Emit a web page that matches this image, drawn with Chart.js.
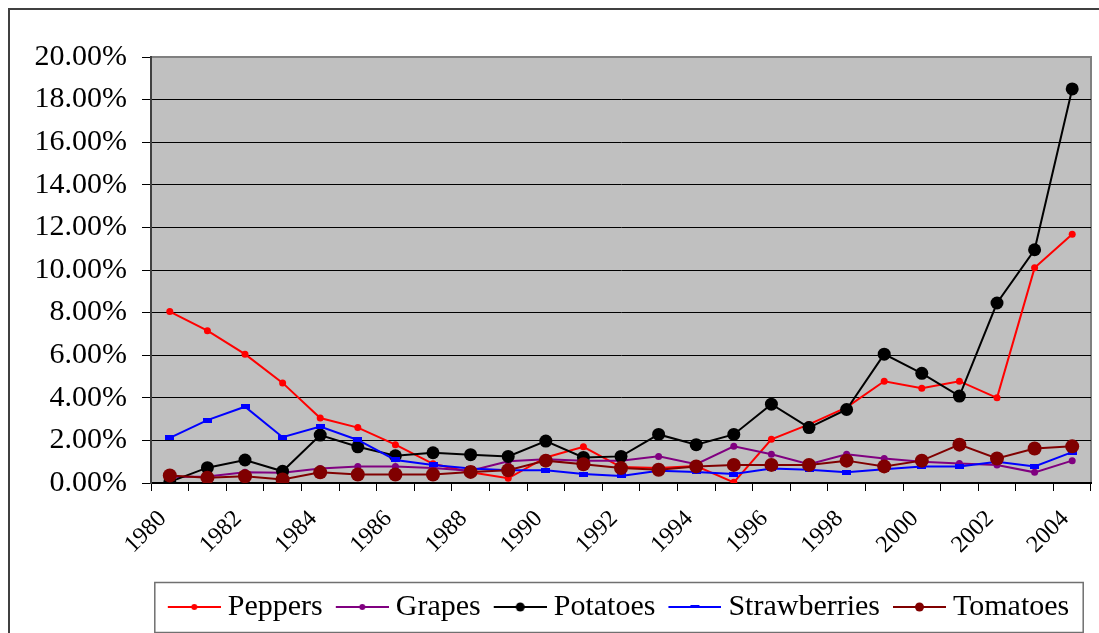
<!DOCTYPE html>
<html>
<head>
<meta charset="utf-8">
<script src="https://cdn.jsdelivr.net/npm/chart.js@4.4.1/dist/chart.umd.min.js"></script>
<style>
  html, body { margin: 0; padding: 0; background: #fff; }
  canvas { display: block; }
</style>
</head>
<body>
<canvas id="chart" width="1099" height="633"></canvas>
<script>
  'use strict';

  var years = ['1980', '1981', '1982', '1983', '1984', '1985', '1986', '1987', '1988', '1989',
    '1990', '1991', '1992', '1993', '1994', '1995', '1996', '1997', '1998', '1999',
    '2000', '2001', '2002', '2003', '2004'];

  var peppers = [8.05, 7.15, 6.05, 4.7, 3.05, 2.6, 1.8, 0.9, 0.5, 0.22, 1.2, 1.7, 0.75,
    0.7, 0.8, 0.03, 2.05, 2.75, 3.55, 4.78, 4.45, 4.78, 4.0, 10.1, 11.68];
  var grapes = [0.28, 0.3, 0.5, 0.48, 0.68, 0.78, 0.78, 0.7, 0.58, 1.02, 1.12, 1.05, 1.05,
    1.25, 0.88, 1.72, 1.35, 0.88, 1.35, 1.15, 1.0, 0.92, 0.85, 0.5, 1.05];
  var potatoes = [0.05, 0.72, 1.08, 0.55, 2.25, 1.7, 1.28, 1.42, 1.33, 1.25, 1.97, 1.2, 1.25,
    2.28, 1.8, 2.28, 3.7, 2.6, 3.45, 6.05, 5.15, 4.08, 8.45, 10.95, 18.5];
  var strawberries = [2.12, 2.95, 3.58, 2.15, 2.65, 2.02, 1.08, 0.85, 0.68, 0.6, 0.6, 0.42, 0.33,
    0.58, 0.52, 0.42, 0.68, 0.62, 0.5, 0.65, 0.78, 0.78, 1.0, 0.78, 1.45];
  var tomatoes = [0.35, 0.25, 0.32, 0.17, 0.5, 0.4, 0.4, 0.4, 0.52, 0.6, 1.05, 0.88, 0.7,
    0.62, 0.78, 0.85, 0.85, 0.85, 1.05, 0.78, 1.05, 1.8, 1.15, 1.62, 1.72];

  var yMax = 20;
  var yStep = 2;

  var serif = "'Liberation Serif', 'Times New Roman', serif";

  // small blue dash used as the strawberry marker
  function dashMarker(color, w, h) {
    var c = document.createElement('canvas');
    c.width = w;
    c.height = h;
    var ctx = c.getContext('2d');
    ctx.fillStyle = color;
    ctx.fillRect(0, 0, w, h);
    return c;
  }

  // legend icon: line segment with the series marker in the middle
  function legendIcon(color, marker, size) {
    var c = document.createElement('canvas');
    c.width = 56;
    c.height = 14;
    var ctx = c.getContext('2d');
    ctx.strokeStyle = color;
    ctx.lineWidth = 2;
    ctx.beginPath();
    ctx.moveTo(3, 7);
    ctx.lineTo(56, 7);
    ctx.stroke();
    ctx.fillStyle = color;
    if (marker === 'dash') {
      ctx.fillRect(25, 5, 9, 3);
    } else {
      ctx.beginPath();
      ctx.arc(29.5, 7, size, 0, Math.PI * 2);
      ctx.fill();
    }
    return c;
  }

  var icons = [
    legendIcon('#ff0000', 'circle', 3),
    legendIcon('#800080', 'circle', 3),
    legendIcon('#000000', 'circle', 4.5),
    legendIcon('#0000ff', 'dash', 0),
    legendIcon('#800000', 'circle', 4.5)
  ];

  var plotFrame = {
    id: 'plotFrame',
    beforeDraw: function(chart) {
      var ctx = chart.ctx;
      var a = chart.chartArea;
      ctx.save();
      ctx.fillStyle = '#c0c0c0';
      ctx.fillRect(a.left, a.top, a.right - a.left, a.bottom - a.top);
      ctx.strokeStyle = '#808080';
      ctx.lineWidth = 2;
      ctx.strokeRect(a.left, a.top, a.right - a.left, a.bottom - a.top);
      // outer chart border, cut off on the right and bottom
      ctx.strokeStyle = '#404040';
      ctx.lineWidth = 2;
      ctx.strokeRect(9, 9, 1200, 800);
      ctx.restore();
    },
    afterDraw: function(chart) {
      var lg = chart.legend;
      var boxes = lg.legendHitBoxes;
      if (!boxes || !boxes.length) return;
      var first = boxes[0];
      var last = boxes[boxes.length - 1];
      var ctx = chart.ctx;
      ctx.save();
      ctx.strokeStyle = '#707070';
      ctx.lineWidth = 1.5;
      ctx.strokeRect(first.left - 18, 582.5, last.left + last.width + 32 - first.left, 50);
      ctx.restore();
    }
  };

  var chart = new Chart(document.getElementById('chart'), {
    type: 'line',
    data: {
      labels: years,
      datasets: [
        {
          label: 'Peppers',
          data: peppers,
          borderColor: '#ff0000',
          backgroundColor: '#ff0000',
          pointRadius: 3.5,
          order: 5
        },
        {
          label: 'Grapes',
          data: grapes,
          borderColor: '#800080',
          backgroundColor: '#800080',
          pointRadius: 3.5,
          order: 4
        },
        {
          label: 'Potatoes',
          data: potatoes,
          borderColor: '#000000',
          backgroundColor: '#000000',
          pointRadius: 6.5,
          order: 3
        },
        {
          label: 'Strawberries',
          data: strawberries,
          borderColor: '#0000ff',
          backgroundColor: '#0000ff',
          pointStyle: dashMarker('#0000ff', 9, 5),
          order: 2
        },
        {
          label: 'Tomatoes',
          data: tomatoes,
          borderColor: '#800000',
          backgroundColor: '#800000',
          pointRadius: 7,
          order: 1
        }
      ]
    },
    options: {
      responsive: false,
      animation: false,
      layout: {
        padding: { top: 57, right: 8, bottom: 1, left: 0 }
      },
      elements: {
        line: { borderWidth: 2, tension: 0, fill: false },
        point: { borderWidth: 0, hoverRadius: 7 }
      },
      scales: {
        x: {
          type: 'category',
          offset: true,
          afterFit: function(scale) {
            scale.height = 91;
            scale.paddingLeft = 0;
            scale.paddingRight = 0;
          },
          grid: {
            offset: true,
            drawOnChartArea: false,
            drawTicks: true,
            tickLength: 8,
            color: '#000000',
            lineWidth: 1
          },
          border: { color: '#000000', width: 2 },
          ticks: {
            autoSkip: false,
            minRotation: 45,
            maxRotation: 45,
            labelOffset: -7,
            padding: 14,
            color: '#000000',
            font: { family: serif, size: 24 },
            callback: function(value, index) {
              return index % 2 === 0 ? years[index] : '';
            }
          }
        },
        y: {
          min: 0,
          max: yMax,
          afterFit: function(scale) { scale.width = 151; },
          grid: {
            color: function(c) { return c.tick && c.tick.value === yMax ? '#808080' : '#000000'; },
            lineWidth: 1,
            tickLength: 9,
            tickColor: '#000000'
          },
          border: { color: '#404040', width: 2 },
          ticks: {
            stepSize: yStep,
            autoSkip: false,
            padding: 15,
            color: '#000000',
            font: { family: serif, size: 30 },
            callback: function(value) { return value.toFixed(2) + '%'; }
          }
        }
      },
      plugins: {
        title: { display: false },
        tooltip: { enabled: false },
        legend: {
          position: 'bottom',
          fullSize: false,
          labels: {
            usePointStyle: true,
            pointStyleWidth: 40,
            boxHeight: 30,
            padding: 18,
            color: '#000000',
            font: { family: serif, size: 30 },
            sort: function(a, b) { return a.datasetIndex - b.datasetIndex; },
            generateLabels: function(ch) {
              var items = Chart.defaults.plugins.legend.labels.generateLabels(ch);
              items.forEach(function(it) {
                it.pointStyle = icons[it.datasetIndex];
                it.lineWidth = 0;
              });
              return items;
            }
          }
        }
      }
    },
    plugins: [plotFrame]
  });
</script>
</body>
</html>
